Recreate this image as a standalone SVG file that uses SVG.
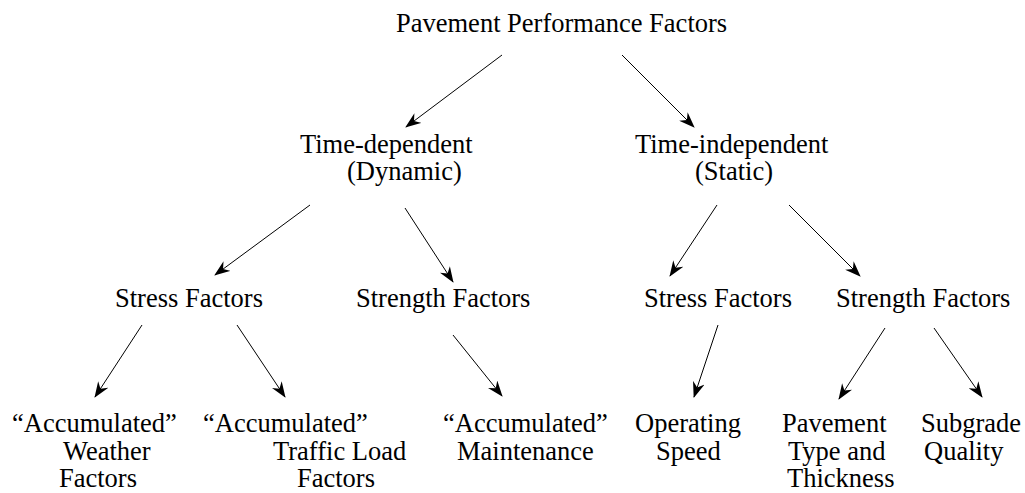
<svg xmlns="http://www.w3.org/2000/svg" width="1025" height="493" viewBox="0 0 1025 493">
<defs>
<style>
.t text{font-size:26.5px;fill:#000}
.c line{stroke:#000;stroke-width:1;marker-end:url(#ah)}
</style>
<marker id="ah" viewBox="0 0 16 12" refX="15" refY="6" markerWidth="16" markerHeight="12" markerUnits="userSpaceOnUse" orient="auto">
<path d="M0,0 L16,6 L0,12 L5,6 Z" fill="#000"/>
</marker>
</defs>
<rect width="1025" height="493" fill="#fff"/>
<g class="t" font-family="Liberation Serif, Times New Roman, DejaVu Serif, serif">
<g id="root"><text x="396" y="32">Pavement Performance Factors</text></g>
<g id="dynamic"><text x="300" y="153">Time-dependent</text><text x="347" y="180">(Dynamic)</text></g>
<g id="static"><text x="635" y="153">Time-independent</text><text x="695" y="180">(Static)</text></g>
<g id="dyn-stress"><text x="115" y="307">Stress Factors</text></g>
<g id="dyn-strength"><text x="356" y="307">Strength Factors</text></g>
<g id="sta-stress"><text x="644" y="307">Stress Factors</text></g>
<g id="sta-strength"><text x="836" y="307">Strength Factors</text></g>
<g id="weather"><text x="12" y="432">“Accumulated”</text><text x="63" y="460">Weather</text><text x="59" y="487">Factors</text></g>
<g id="traffic"><text x="203" y="432">“Accumulated”</text><text x="273" y="460">Traffic Load</text><text x="297" y="487">Factors</text></g>
<g id="maintenance"><text x="443" y="432">“Accumulated”</text><text x="457" y="460">Maintenance</text></g>
<g id="speed"><text x="635" y="432">Operating</text><text x="656" y="460">Speed</text></g>
<g id="pavement"><text x="782" y="432">Pavement</text><text x="788" y="460">Type and</text><text x="787" y="487">Thickness</text></g>
<g id="subgrade"><text x="921" y="432">Subgrade</text><text x="924" y="460">Quality</text></g>
</g>
<g class="c" id="connectors">
<line x1="502" y1="55" x2="406" y2="127"/>
<line x1="622" y1="55" x2="694" y2="127"/>
<line x1="310" y1="205" x2="215" y2="275"/>
<line x1="405" y1="208" x2="453" y2="282"/>
<line x1="717" y1="205" x2="670" y2="276"/>
<line x1="789" y1="205" x2="860" y2="276"/>
<line x1="142" y1="325" x2="95" y2="397"/>
<line x1="237" y1="325" x2="285" y2="397"/>
<line x1="453" y1="335" x2="502" y2="396"/>
<line x1="718" y1="325" x2="694" y2="397"/>
<line x1="885" y1="328" x2="839" y2="399"/>
<line x1="934" y1="328" x2="982" y2="397"/>
</g>
</svg>
